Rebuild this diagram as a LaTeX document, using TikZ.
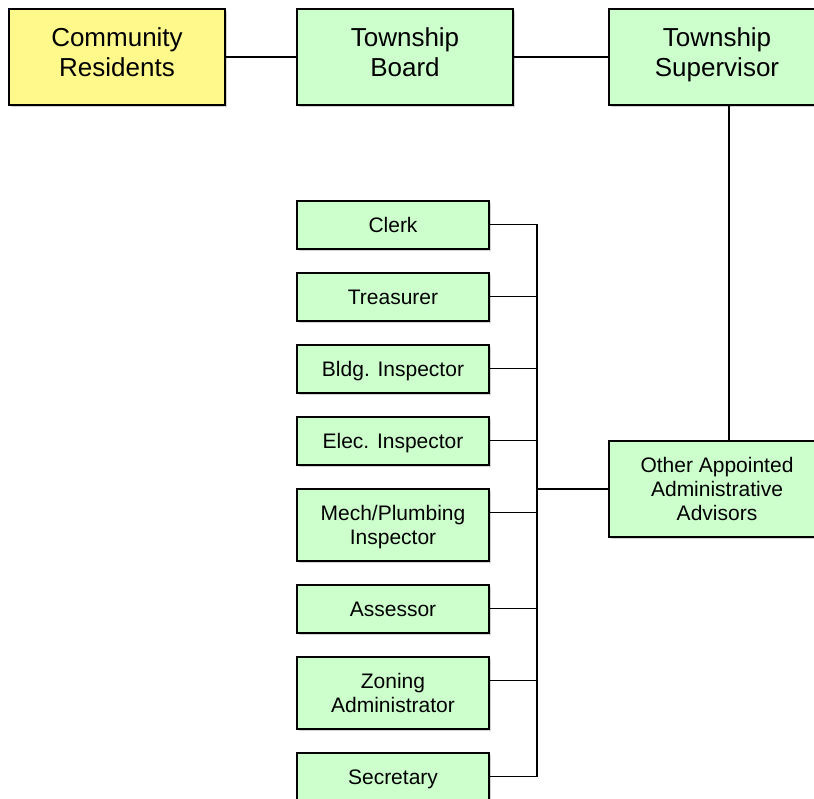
\documentclass[tikz,border=0pt]{standalone}
\usepackage{fontspec}
\setmainfont{Liberation Sans}
\usetikzlibrary{shadows}
\begin{document}
\begin{tikzpicture}[x=1pt,y=1pt,line width=1.4pt,
	unit/.style={draw=black,fill=green!20,align=center,inner sep=0pt,
		drop shadow={shadow xshift=2pt,shadow yshift=-2pt,fill=black!30,opacity=.6}},
	topunit/.style={unit,minimum width=216pt,minimum height=96pt,text depth=10pt,
		font=\fontsize{26}{30}\selectfont},
	office/.style={unit,minimum width=192pt,minimum height=48pt,text depth=0pt,
		font=\fontsize{21}{24}\selectfont},
	tall/.style={minimum height=72pt}]
\useasboundingbox (0,0) rectangle (814,-799);

% top row
\node[topunit,fill=yellow!45] (residents) at (117,-57) {Community\\Residents};
\node[topunit] (board) at (405,-57) {Township\\Board};
\node[topunit] (supervisor) at (717,-57) {Township\\Supervisor};
\node[office,minimum width=216pt,minimum height=96pt] (advisors) at (717,-489)
	{Other Appointed\\Administrative\\Advisors};

% offices under the supervisor
\node[office] (clerk) at (393,-225) {Clerk};
\node[office] (treasurer) at (393,-297) {Treasurer};
\node[office] (bldg) at (393,-369) {Bldg. Inspector};
\node[office] (elec) at (393,-441) {Elec. Inspector};
\node[office,tall] (mech) at (393,-525) {Mech/Plumbing\\Inspector};
\node[office] (assessor) at (393,-609) {Assessor};
\node[office,tall] (zoning) at (393,-693) {Zoning\\Administrator};
\node[office] (secretary) at (393,-777) {Secretary};

\coordinate (bus) at (537,0);

\draw (residents) -- (board);
\draw (board) -- (supervisor);
\draw ([xshift=12pt]supervisor.south) -- ([xshift=12pt]advisors.north);
\foreach \o in {clerk,treasurer,bldg,elec,mech,assessor,zoning,secretary}
	\draw ([yshift=-24pt]\o.north east) -- ++(48,0);
\draw (bus |- clerk.east) -- (bus |- secretary.east);
\draw (bus |- advisors.west) -- (advisors.west);
\end{tikzpicture}
\end{document}
